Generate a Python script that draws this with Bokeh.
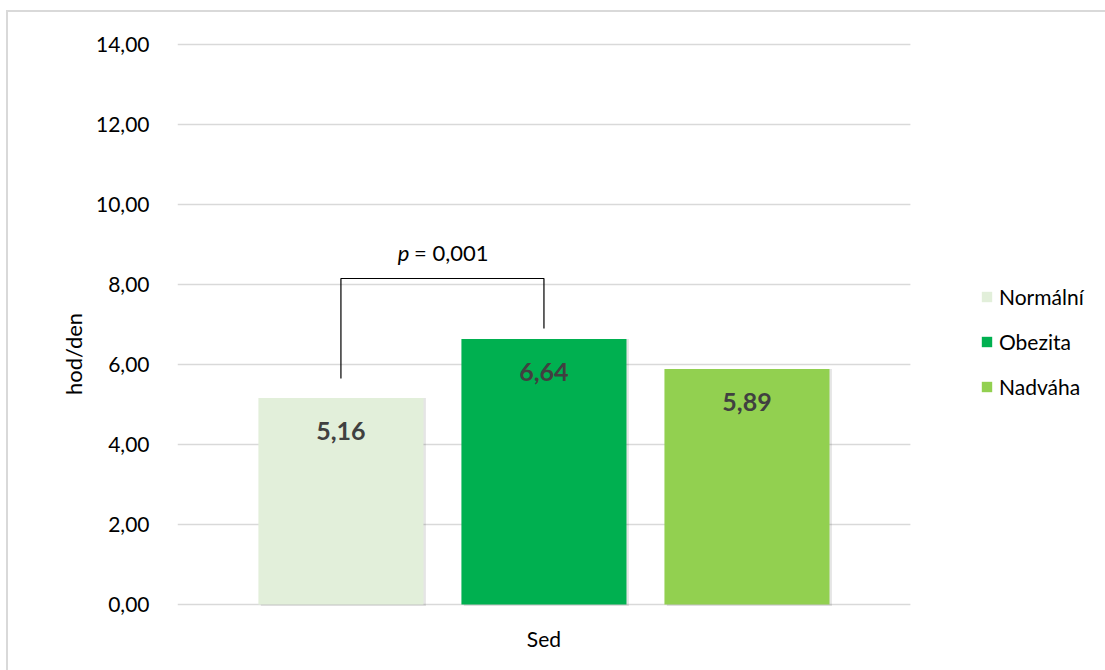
from bokeh.plotting import figure
from bokeh.models import (Range1d, FixedTicker, ColumnDataSource, Legend, LegendItem,
                          InlineStyleSheet)
from bokeh.core.properties import value
from bokeh.embed import file_html
from bokeh.resources import INLINE

# ---- data ----
categories = ["Normální", "Obezita", "Nadváha"]
values = [5.16, 6.64, 5.89]
colors = ["#E2EFDA", "#00B050", "#92D050"]
group_label = "Sed"
y_ticks = [0, 2, 4, 6, 8, 10, 12, 14]
y_tick_labels = ["0,00", "2,00", "4,00", "6,00", "8,00", "10,00", "12,00", "14,00"]
value_labels = ["5,16", "6,64", "5,89"]
p_text = "0,001"
bracket_pair = [0, 1]           # compares Normální vs Obezita
bracket_legs = [5.65, 6.90]     # leg bottoms
bracket_top = 8.15

FONT = "Lato"
xpos = [i - 1 for i in range(len(categories))]
plot_x_extent = (-1.805, 1.805)   # category band (gridline span)

p = figure(width=1105, height=670, output_backend="svg", toolbar_location=None,
           x_range=Range1d(-1.805, 2.7414), y_range=Range1d(-1.525, 14.05),
           min_border_left=177, min_border_right=5, min_border_top=42, min_border_bottom=5)
p.outline_line_color = None
p.background_fill_color = "white"
p.border_fill_color = "white"

# y axis
p.yaxis.ticker = FixedTicker(ticks=y_ticks)
p.yaxis.major_label_overrides = {t: l for t, l in zip(y_ticks, y_tick_labels)}
p.yaxis.axis_line_color = None
p.yaxis.major_tick_line_color = None
p.yaxis.minor_tick_line_color = None
p.yaxis.major_label_standoff = 22
p.yaxis.major_label_text_font = FONT
p.yaxis.major_label_text_font_size = "21px"
p.yaxis.major_label_text_color = "#000000"
p.yaxis.axis_label = "hod/den"
p.yaxis.axis_label_text_font = FONT
p.yaxis.axis_label_text_font_size = "22px"
p.yaxis.axis_label_text_font_style = "normal"
p.yaxis.axis_label_text_color = "#000000"
p.yaxis.axis_label_standoff = 6

# x axis hidden
p.xaxis.visible = False
p.xgrid.grid_line_color = None
p.ygrid.grid_line_color = None

# gridlines over the category band only
p.segment(x0=[plot_x_extent[0]] * len(y_ticks), x1=[plot_x_extent[1]] * len(y_ticks),
          y0=y_ticks, y1=y_ticks, line_color="#D9D9D9", line_width=1.5)

src = ColumnDataSource(dict(x=xpos, top=values, color=colors, cat=categories, lab=value_labels,
                            sx=[x + 0.012 for x in xpos]))

# soft shadow
p.vbar(x="sx", top="top", bottom=-0.04, width=0.813, source=src,
       fill_color="#000000", fill_alpha=0.10, line_color=None)
bars = p.vbar(x="x", top="top", width=0.813, source=src, fill_color="color", line_color=None)

p.text(x="x", y="top", text="lab", source=src, text_align="center", text_baseline="middle",
       y_offset=33, text_font=value(FONT), text_font_size="25px", text_font_style="bold",
       text_color="#404040")

# group label "Sed" below the category band
p.text(x=[sum(plot_x_extent) / 2], y=[0], text=[group_label], text_align="center",
       text_baseline="top", y_offset=21, text_font=value(FONT), text_font_size="21px",
       text_color="#000000")

# bracket
bx = [xpos[bracket_pair[0]], xpos[bracket_pair[0]], xpos[bracket_pair[1]], xpos[bracket_pair[1]]]
by = [bracket_legs[0], bracket_top, bracket_top, bracket_legs[1]]
p.line(bx, by, line_color="#000000", line_width=1.2)
cx = (xpos[bracket_pair[0]] + xpos[bracket_pair[1]]) / 2
p.text(x=[cx], y=[bracket_top], text=["p"], text_align="right", text_baseline="alphabetic",
       x_offset=-33, y_offset=-26, text_font=value(FONT), text_font_size="22px",
       text_font_style="italic", text_color="#000000")
p.text(x=[cx], y=[bracket_top], text=["= " + p_text], text_align="right", text_baseline="alphabetic",
       x_offset=46, y_offset=-26, text_font=value(FONT), text_font_size="22px",
       text_color="#000000")

# legend
items = [LegendItem(label=c, renderers=[bars], index=i) for i, c in enumerate(categories)]
legend = Legend(items=items, location=(803, 266), orientation="vertical",
                glyph_width=13, glyph_height=13, label_standoff=6, label_height=20,
                spacing=20, padding=0, margin=0, border_line_color=None,
                background_fill_alpha=0, label_text_font=FONT, label_text_font_size="21px",
                label_text_color="#000000")
p.add_layout(legend, "center")

# chart border (top / left visible)
p.stylesheets = [InlineStyleSheet(css="""
:host::after { content: ""; position: absolute; left: 6px; top: 10px; right: 0; bottom: 0;
  border-left: 2px solid #D9D9D9; border-top: 2px solid #D9D9D9; pointer-events: none; }
""")]

open("out.html", "w").write(file_html(p, INLINE))
